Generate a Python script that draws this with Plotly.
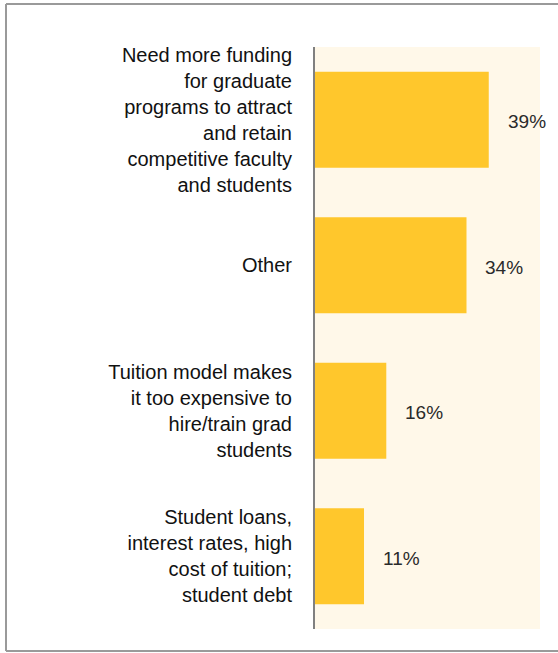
import plotly.graph_objects as go

categories = [
    "Need more funding<br>for graduate<br>programs to attract<br>and retain<br>competitive faculty<br>and students",
    "Other",
    "Tuition model makes<br>it too expensive to<br>hire/train grad<br>students",
    "Student loans,<br>interest rates, high<br>cost of tuition;<br>student debt",
]
values = [39, 34, 16, 11]
value_labels = ["39%", "34%", "16%", "11%"]

W, H = 558, 653
L, R, T, B = 315, 18, 47, 24
pw, ph = W - L - R, H - T - B


def px_x(p):
    return (p - L) / pw


def px_y(p):
    return 1 - (p - T) / ph


fig = go.Figure()
fig.add_trace(go.Bar(
    x=values,
    y=categories,
    orientation="h",
    width=0.66,
    marker=dict(color="#FFC72C", line=dict(width=0)),
    hoverinfo="skip",
))

for v, lab, cat in zip(values, value_labels, categories):
    fig.add_annotation(x=v, y=cat, text=lab, showarrow=False,
                       xanchor="left", xshift=17, yshift=-2,
                       font=dict(size=19, color="#2a2a2a"))

# grey frame: top, left and bottom edges only (right edge runs off the page)
frame = dict(type="line", xref="paper", yref="paper",
             line=dict(color="#9a9a9a", width=2), layer="below")
fig.add_shape(x0=px_x(6), x1=px_x(W + 5), y0=px_y(4), y1=px_y(4), **frame)
fig.add_shape(x0=px_x(6), x1=px_x(W + 5), y0=px_y(651), y1=px_y(651), **frame)
fig.add_shape(x0=px_x(6), x1=px_x(6), y0=px_y(4), y1=px_y(651), **frame)

fig.update_layout(
    width=W, height=H,
    margin=dict(l=L, r=R, t=T, b=B),
    paper_bgcolor="white",
    plot_bgcolor="#FFF8E9",
    showlegend=False,
    font=dict(family="Liberation Sans, Arial, sans-serif", color="#1a1a1a"),
    bargap=0.34,
    xaxis=dict(range=[0, 50.5], visible=False, fixedrange=True),
    yaxis=dict(autorange="reversed", showgrid=False, zeroline=False,
               showline=True, linecolor="#808080", linewidth=2,
               ticks="", ticklabelstandoff=17,
               tickfont=dict(size=20, color="#111111")),
)

fig.write_html("out.html", config={"displayModeBar": False},
               post_script="document.body.style.margin='0';document.body.style.overflow='hidden';")
